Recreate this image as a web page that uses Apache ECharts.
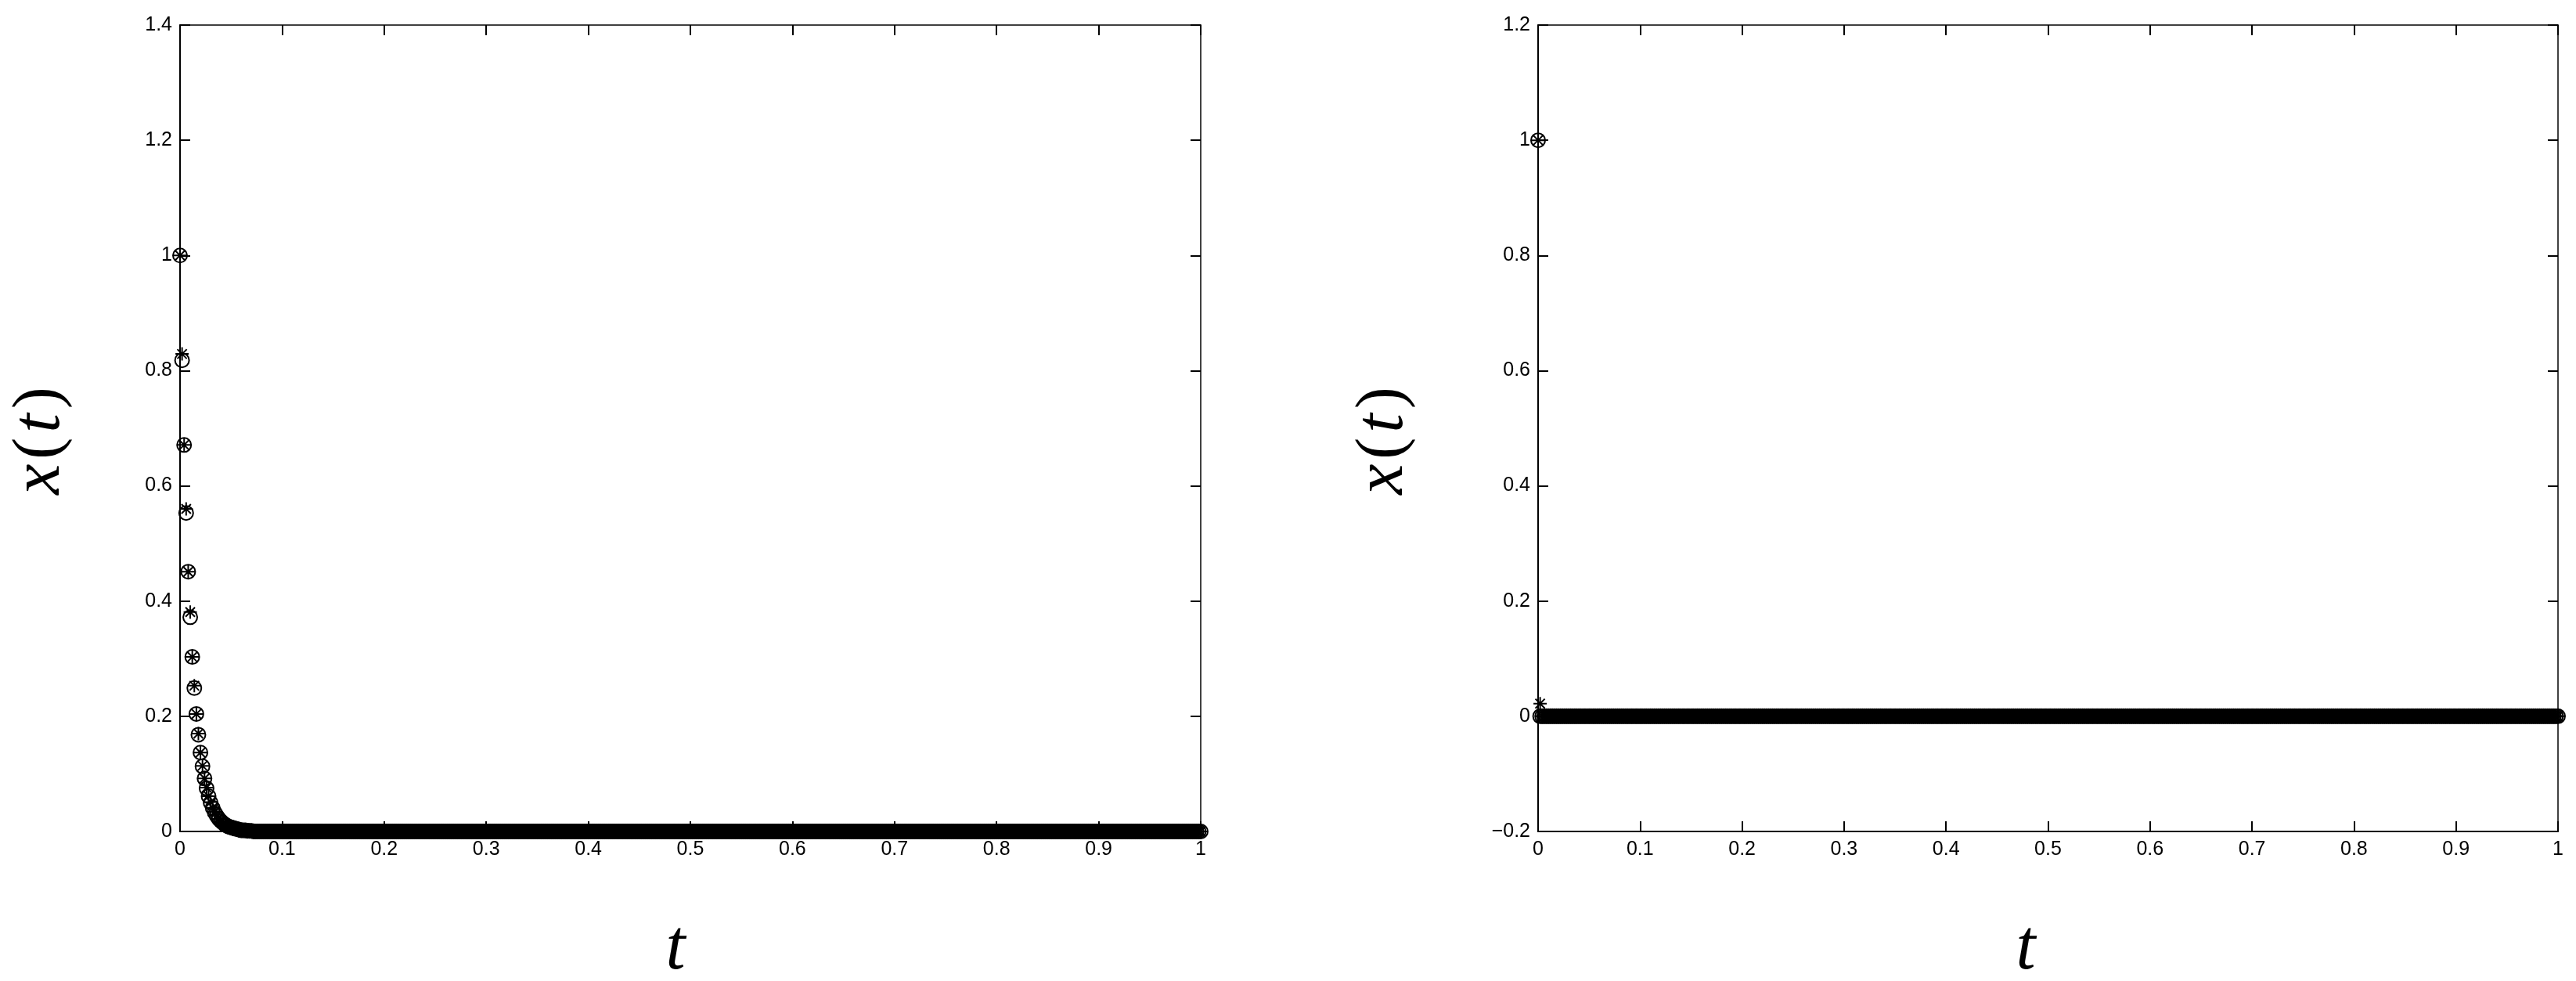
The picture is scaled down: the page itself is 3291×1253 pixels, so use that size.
<!DOCTYPE html>
<html><head><meta charset="utf-8">
<script src="https://cdn.jsdelivr.net/npm/echarts@6/dist/echarts.min.js"></script>
<style>html,body{margin:0;padding:0;background:#fff}#c{width:3291px;height:1253px}</style>
</head><body><div id="c"></div>
<script>
// ---- data ----
const TIME_STEP = 0.002;          // spacing of the markers along t
const T_START = 0, T_END = 1;
const xTickLabels = ['0','0.1','0.2','0.3','0.4','0.5','0.6','0.7','0.8','0.9','1'];
const leftYTicks = ['0','0.2','0.4','0.6','0.8','1','1.2','1.4'];
const rightYTicks = ['−0.2','0','0.2','0.4','0.6','0.8','1','1.2'];

// left panel: transient (first samples), afterwards the markers sit on 0
const leftCircleHead = [1, 0.818, 0.671, 0.553, 0.451, 0.372, 0.303, 0.249, 0.204, 0.168,
  0.137, 0.113, 0.092, 0.075, 0.061, 0.050, 0.041, 0.033, 0.027, 0.022,
  0.018, 0.015, 0.012, 0.010, 0.008, 0.007, 0.006, 0.005, 0.004, 0.003,
  0.002, 0.002, 0.002, 0.001, 0.001, 0.001];
const leftStarHead = [1, 0.829, 0.671, 0.560, 0.451, 0.381, 0.303, 0.253, 0.204, 0.170,
  0.137, 0.114, 0.092, 0.076, 0.061, 0.051, 0.041, 0.034, 0.027, 0.022,
  0.018, 0.015, 0.012, 0.010, 0.008, 0.007, 0.006, 0.005, 0.004, 0.003,
  0.002, 0.002, 0.002, 0.001, 0.001, 0.001];
// right panel
const rightCircleHead = [1, 0];
const rightStarHead = [1, 0.022];
const TAIL_VALUE = 0;

// ---- build ----
const nSamples = Math.round((T_END - T_START) / TIME_STEP);
const tGrid = [];
for (let i = 0; i <= nSamples; i++) tGrid.push(+(T_START + i * TIME_STEP).toFixed(4));
function series(head) { return tGrid.map((t, i) => [t, i < head.length ? head[i] : TAIL_VALUE]); }

const FONT = '"Liberation Sans", Arial, sans-serif';
const SERIF = '"Liberation Serif", "Times New Roman", serif';
const STAR = 'path://M0,-10 L0,10 M-10,0 L10,0 M-7.07,-7.07 L7.07,7.07 M-7.07,7.07 L7.07,-7.07';

function xAxes(gi) {
  const base = {gridIndex: gi, type: 'value', min: 0, max: 1, interval: 0.1,
    axisTick: {inside: true, length: 13, lineStyle: {color: '#000', width: 2}},
    splitLine: {show: false}};
  return [
    Object.assign({}, base, {position: 'bottom',
      axisLine: {onZero: false, lineStyle: {color: '#000', width: 2}},
      axisLabel: {color: '#000', fontSize: 25, fontFamily: FONT, margin: 11,
        formatter: v => xTickLabels[Math.round(v * 10)]}}),
    Object.assign({}, base, {position: 'top',
      axisLine: {onZero: false, lineStyle: {color: '#000', width: 1.5}},
      axisLabel: {show: false}})
  ];
}
function yAxes(gi, min, max, labels) {
  const base = {gridIndex: gi, type: 'value', min: min, max: max, interval: 0.2,
    axisTick: {inside: true, length: 13, lineStyle: {color: '#000', width: 2}},
    splitLine: {show: false}};
  return [
    Object.assign({}, base, {position: 'left',
      axisLine: {onZero: false, lineStyle: {color: '#000', width: 2}},
      axisLabel: {color: '#000', fontSize: 25, fontFamily: FONT, margin: 10,
        formatter: v => labels[Math.round((v - min) / 0.2)]}}),
    Object.assign({}, base, {position: 'right',
      axisLine: {onZero: false, lineStyle: {color: '#000', width: 1.5}},
      axisLabel: {show: false}})
  ];
}
function circleSeries(xi, yi, data) {
  return {type: 'scatter', xAxisIndex: xi, yAxisIndex: yi, data: data, symbol: 'circle', symbolSize: 18,
    itemStyle: {color: 'rgba(0,0,0,0)', borderColor: '#000', borderWidth: 2, opacity: 1},
    animation: false, progressive: 0, silent: true};
}
function starSeries(xi, yi, data) {
  return {type: 'scatter', xAxisIndex: xi, yAxisIndex: yi, data: data, symbol: STAR, symbolSize: 17,
    itemStyle: {color: 'rgba(0,0,0,0)', borderColor: '#000', borderWidth: 2, opacity: 1},
    animation: false, progressive: 0, silent: true};
}
const labelRich = {
  i: {font: 'italic 88px ' + SERIF, fill: '#000', padding: [0, 3]},
  n: {font: '84px ' + SERIF, fill: '#000', padding: [0, 3]}
};

const chart = echarts.init(document.getElementById('c'), null, {renderer: 'canvas'});
chart.setOption({
  backgroundColor: '#fff',
  animation: false,
  grid: [
    {left: 230, top: 32, width: 1304, height: 1030},
    {left: 1965, top: 32, width: 1303, height: 1030}
  ],
  xAxis: [...xAxes(0), ...xAxes(1)],
  yAxis: [...yAxes(0, 0, 1.4, leftYTicks), ...yAxes(1, -0.2, 1.2, rightYTicks)],
  series: [
    circleSeries(0, 0, series(leftCircleHead)),
    starSeries(0, 0, series(leftStarHead)),
    circleSeries(2, 2, series(rightCircleHead)),
    starSeries(2, 2, series(rightStarHead))
  ],
  graphic: [
    {type: 'text', x: 52, y: 563, rotation: Math.PI / 2, style: {
      text: '{i|x}{n|(}{i|t}{n|)}', align: 'center', verticalAlign: 'middle', rich: labelRich}},
    {type: 'text', x: 1768, y: 563, rotation: Math.PI / 2, style: {
      text: '{i|x}{n|(}{i|t}{n|)}', align: 'center', verticalAlign: 'middle', rich: labelRich}},
    {type: 'text', x: 863, y: 1213, style: {text: 't', font: 'italic 90px ' + SERIF, fill: '#000',
      align: 'center', verticalAlign: 'middle'}},
    {type: 'text', x: 2588, y: 1213, style: {text: 't', font: 'italic 90px ' + SERIF, fill: '#000',
      align: 'center', verticalAlign: 'middle'}}
  ]
});
</script></body></html>
